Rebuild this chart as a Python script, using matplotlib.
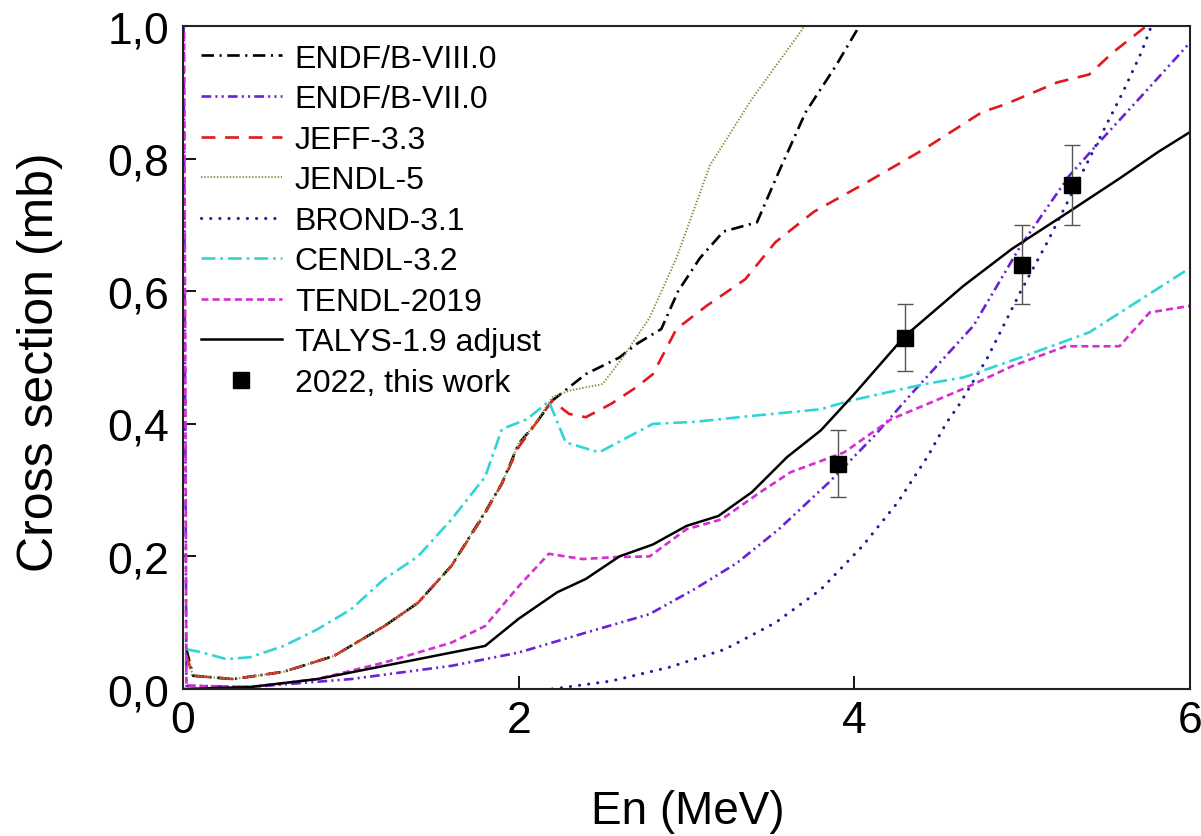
import matplotlib.pyplot as plt

plt.rcParams['font.family'] = ['Liberation Sans', 'DejaVu Sans']
plt.rcParams['lines.scale_dashes'] = False

# ENDF/B-VIII.0
e_b8 = [0.02, 0.06, 0.3, 0.6, 0.9, 1.2, 1.4, 1.6, 1.8, 1.9, 2.0, 2.1, 2.2, 2.4, 2.6, 2.7,
        2.85, 2.95, 3.08, 3.22, 3.42, 3.55, 3.71, 3.89, 4.03, 4.1]
s_b8 = [0.06, 0.02, 0.015, 0.026, 0.05, 0.095, 0.13, 0.186, 0.267, 0.31, 0.37, 0.40, 0.435,
        0.475, 0.50, 0.52, 0.543, 0.60, 0.65, 0.69, 0.704, 0.78, 0.87, 0.94, 1.0, 1.03]
# ENDF/B-VII.0
e_b7 = [0.0, 0.02, 0.4, 1.0, 1.6, 2.0, 2.4, 2.78, 3.05, 3.3, 3.55, 3.85, 4.12, 4.35, 4.71,
        4.99, 5.28, 5.46, 5.71, 6.0]
s_b7 = [1.2, 0.005, 0.003, 0.015, 0.035, 0.055, 0.085, 0.113, 0.151, 0.19, 0.241, 0.312,
        0.382, 0.448, 0.548, 0.668, 0.774, 0.825, 0.894, 0.975]
# JEFF-3.3
e_jeff = [0.02, 0.06, 0.3, 0.6, 0.9, 1.2, 1.4, 1.6, 1.8, 1.9, 2.0, 2.1, 2.2, 2.3, 2.4, 2.55,
          2.7, 2.8, 2.94, 3.12, 3.35, 3.53, 3.76, 4.08, 4.42, 4.76, 4.9, 5.21, 5.4, 5.54, 5.74, 5.9]
s_jeff = [0.05, 0.02, 0.015, 0.026, 0.05, 0.095, 0.13, 0.186, 0.265, 0.31, 0.365, 0.40, 0.435,
          0.415, 0.41, 0.43, 0.455, 0.475, 0.543, 0.578, 0.618, 0.674, 0.72, 0.765, 0.815,
          0.87, 0.882, 0.915, 0.927, 0.96, 1.0, 1.03]
# JENDL-5
e_jendl = [0.02, 0.06, 0.3, 0.6, 0.9, 1.2, 1.4, 1.6, 1.8, 1.9, 2.0, 2.1, 2.2, 2.3, 2.5, 2.62,
           2.78, 2.94, 3.14, 3.39, 3.69, 3.75]
s_jendl = [0.05, 0.02, 0.015, 0.026, 0.05, 0.095, 0.13, 0.186, 0.267, 0.31, 0.37, 0.40, 0.44,
           0.45, 0.46, 0.50, 0.56, 0.65, 0.79, 0.89, 0.995, 1.02]
# BROND-3.1
e_brond = [2.2, 2.55, 2.9, 3.23, 3.53, 3.8, 4.05, 4.26, 4.44, 4.55, 4.62, 4.79, 4.99, 5.15,
           5.44, 5.6, 5.71, 5.8]
s_brond = [0.0, 0.012, 0.033, 0.06, 0.1, 0.15, 0.216, 0.282, 0.352, 0.402, 0.427, 0.498,
           0.599, 0.674, 0.82, 0.90, 0.96, 1.02]
# CENDL-3.2
e_cendl = [0.02, 0.1, 0.26, 0.4, 0.6, 0.8, 1.0, 1.2, 1.4, 1.6, 1.8, 1.9, 2.05, 2.18, 2.28,
           2.48, 2.8, 3.05, 3.39, 3.8, 3.96, 4.42, 4.65, 4.99, 5.4, 6.0]
s_cendl = [0.06, 0.056, 0.045, 0.048, 0.065, 0.09, 0.12, 0.166, 0.2, 0.256, 0.32, 0.392,
           0.407, 0.434, 0.372, 0.357, 0.40, 0.403, 0.412, 0.422, 0.434, 0.46, 0.47, 0.50,
           0.538, 0.635]
# TENDL-2019
e_tendl = [0.0, 0.02, 0.4, 0.8, 1.2, 1.6, 1.8, 2.0, 2.18, 2.38, 2.58, 2.78, 3.0, 3.21, 3.44,
           3.62, 3.94, 4.22, 4.53, 4.67, 4.94, 5.26, 5.58, 5.76, 6.0]
s_tendl = [1.5, 0.005, 0.003, 0.015, 0.04, 0.07, 0.095, 0.155, 0.204, 0.196, 0.199, 0.2,
           0.241, 0.256, 0.297, 0.327, 0.357, 0.407, 0.44, 0.455, 0.487, 0.517, 0.517, 0.568,
           0.578]
# TALYS-1.9 adjust
e_talys = [0.0, 0.4, 0.8, 1.2, 1.8, 2.0, 2.23, 2.4, 2.6, 2.8, 3.0, 3.19, 3.39, 3.6, 3.8, 4.0,
           4.3, 4.65, 4.94, 5.28, 5.58, 5.81, 6.0]
s_talys = [0.0, 0.003, 0.015, 0.035, 0.065, 0.106, 0.146, 0.166, 0.2, 0.218, 0.246, 0.261,
           0.297, 0.35, 0.39, 0.445, 0.532, 0.608, 0.664, 0.72, 0.77, 0.81, 0.84]
# 2022, this work
e_exp = [3.9, 4.3, 5.0, 5.3]
s_exp = [0.34, 0.53, 0.64, 0.76]
err_exp = [0.05, 0.05, 0.06, 0.06]

fig = plt.figure(figsize=(12.01, 8.37), dpi=100)
ax = fig.add_axes([0.1524, 0.1756, 0.8384, 0.7921])

lw = 1.9
ax.plot(e_b8, s_b8, color='black', lw=lw, dashes=(9, 4, 1.5, 4), label='ENDF/B-VIII.0')
ax.plot(e_b7, s_b7, color='#6a22d6', lw=lw, dashes=(7, 3, 1.5, 3, 1.5, 3), label='ENDF/B-VII.0')
ax.plot(e_jeff, s_jeff, color='#e0191f', lw=lw, dashes=(10, 7), label='JEFF-3.3')
ax.plot(e_jendl, s_jendl, color='#8c8c3c', lw=1.4, dashes=(1, 1.3), label='JENDL-5')
ax.plot(e_brond, s_brond, color='#1c1c96', lw=2.2, dashes=(0.1, 6.5), dash_capstyle='round',
        label='BROND-3.1')
ax.plot(e_cendl, s_cendl, color='#33d4d4', lw=lw, dashes=(10, 3.5, 2, 3.5), label='CENDL-3.2')
ax.plot(e_tendl, s_tendl, color='#d42fd0', lw=lw, dashes=(5, 3), label='TENDL-2019')
ax.plot(e_talys, s_talys, color='black', lw=1.8, label='TALYS-1.9 adjust')
ax.errorbar(e_exp, s_exp, yerr=err_exp, fmt='none', ecolor='#555555', elinewidth=1.0,
            capsize=5.5, capthick=1.0)
ax.plot(e_exp, s_exp, 's', color='black', ms=11, label='2022, this work')

ax.set_xlim(0, 6)
ax.set_ylim(0, 1.0)
ax.set_xticks([0, 2, 4, 6])
ax.set_xticklabels(['0', '2', '4', '6'])
ax.set_yticks([0, 0.2, 0.4, 0.6, 0.8, 1.0])
ax.set_yticklabels(['0,0', '0,2', '0,4', '0,6', '0,8', '1,0'])
ax.tick_params(axis='x', direction='in', length=9.5, width=1.3, labelsize=32, pad=8)
ax.tick_params(axis='y', direction='in', length=9.5, width=1.3, labelsize=32, pad=10)
for sp in ax.spines.values():
    sp.set_linewidth(1.5)
    sp.set_color('#222222')

fig.text(688 / 1201, 1 - 812 / 837, 'En (MeV)', fontsize=33, ha='center', va='center')
fig.text(40 / 1201, 1 - 362 / 837, 'Cross section (mb)', fontsize=36, ha='center',
         va='center', rotation=90)

ax.legend(loc='upper left', frameon=False, fontsize=23, handlelength=2.55, handletextpad=0.4,
          labelspacing=0.33, borderaxespad=0.45, numpoints=1, borderpad=0.1)

fig.savefig('out.png', dpi=100)
